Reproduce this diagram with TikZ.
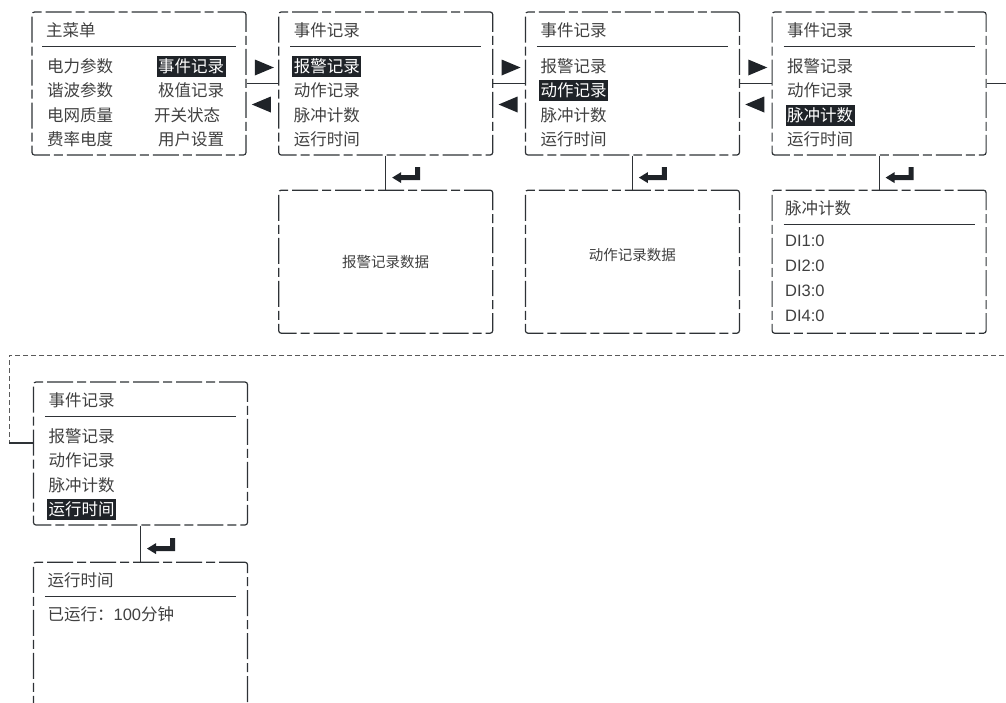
\documentclass[tikz,border=0pt]{standalone}
\usepackage{fontspec}
\setmainfont{Liberation Sans}
\newfontfamily\cjk{Noto Sans CJK SC}
\usetikzlibrary{positioning,calc}
\definecolor{linec}{HTML}{2E3236}
\definecolor{selc}{HTML}{1F2328}
\definecolor{textc}{HTML}{404040}
\definecolor{wrapc}{HTML}{5A5A5A}
\newcommand*\retkey[1]{\fill[selc] ([shift={(6.5,5)}]#1) -- ++(9,-5.5) -- ++(0,3) -- ++(14,0)
  -- ++(0,-8) -- ++(5,0) -- ++(0,13) -- ++(-19,0) -- ++(0,3) -- cycle;}

\begin{document}
\begin{tikzpicture}[x=1pt,y=-1pt,node distance=31.5pt,
  menu/.style={draw=linec,line width=1.2pt,dash pattern=on 26pt off 4pt on 9pt off 4pt,
    rounded corners=2.5pt,minimum width=214pt,minimum height=143pt,inner sep=0pt},
  link/.style={draw=linec,line width=1.2pt},
  wrap/.style={draw=wrapc,line width=0.8pt,dash pattern=on 5pt off 3pt},
  rule/.style={draw=linec,line width=1pt},
  item/.style={anchor=west,inner xsep=1.5pt,inner ysep=2pt,text height=14.5pt,text depth=2.5pt,
    text=textc,font=\cjk\fontsize{16.5}{18}\selectfont},
  sel/.style={item,fill=selc,text=white},
  latin/.style={item,font=\fontsize{16.5}{18}\selectfont},
  note/.style={text=textc,font=\cjk\fontsize{14.5}{16}\selectfont}]
  \clip (0,0) rectangle (1006,702);

  % menu boxes
  \node[menu] (main) at (139,83.5) {};
  \node[menu,right=of main] (rec1) {};
  \node[menu,right=of rec1] (rec2) {};
  \node[menu,right=of rec2] (rec3) {};
  \node[menu,below=34pt of rec1] (alarmdata) {};
  \node[menu,below=34pt of rec2] (actiondata) {};
  \node[menu,below=34pt of rec3] (pulsedata) {};
  \node[menu] (rec4) at (140.5,453.5) {};
  \node[menu,below=36pt of rec4,minimum height=160pt] (timedata) {};

  % main menu
  \node[item] at ([shift={(13,19)}]main.north west) {主菜单};
  \draw[rule] ([shift={(11,35)}]main.north west) -- ([shift={(-11,35)}]main.north east);
  \foreach \l/\r/\dx [count=\i] in {电力参数/事件记录/125,谐波参数/极值记录/125,
      电网质量/开关状态/121,费率电度/用户设置/125}{
    \ifnum\i=1 \def\st{sel}\else\def\st{item}\fi
    \node[item] at ([shift={(14,30.7+24.3*\i)}]main.north west) {\l};
    \node[\st] at ([shift={(\dx,30.7+24.3*\i)}]main.north west) {\r};
  }

  % event record menus
  \foreach \b/\s in {rec1/1,rec2/2,rec3/3,rec4/4}{
    \node[item] at ([shift={(14,19)}]\b.north west) {事件记录};
    \draw[rule] ([shift={(12,35)}]\b.north west) -- ([shift={(-12,35)}]\b.north east);
    \foreach \t [count=\i] in {报警记录,动作记录,脉冲计数,运行时间}{
      \ifnum\i=\s \def\st{sel}\else\def\st{item}\fi
      \node[\st] at ([shift={(14,30.7+24.3*\i)}]\b.north west) {\t};
    }
  }

  % data screens
  \node[note] at (alarmdata) {报警记录数据};
  \node[note,yshift=7pt] at (actiondata) {动作记录数据};
  \node[item] at ([shift={(12,19)}]pulsedata.north west) {脉冲计数};
  \draw[rule] ([shift={(12,35)}]pulsedata.north west) -- ([shift={(-12,35)}]pulsedata.north east);
  \foreach \i in {1,...,4}
    \node[latin] at ([shift={(12,26+25*\i)}]pulsedata.north west) {DI\i:0};
  \node[item] at ([shift={(13,19)}]timedata.north west) {运行时间};
  \draw[rule] ([shift={(12,35)}]timedata.north west) -- ([shift={(-12,35)}]timedata.north east);
  \node[item] at ([shift={(13,53)}]timedata.north west) {已运行：{\rmfamily 100}分钟};

  % links
  \foreach \a/\b in {main/rec1,rec1/rec2,rec2/rec3}{
    \draw[link] (\a) -- (\b);
    \coordinate (m) at ($(\a.east)!0.5!(\b.west)$);
    \fill[selc] ([shift={(-7.5,-24)}]m) -- ++(19,8) -- ++(-19,8) -- cycle;
    \fill[selc] ([shift={(8.5,13)}]m) -- ++(-19,8) -- ++(19,8) -- cycle;
  }
  \foreach \a/\b in {rec1/alarmdata,rec2/actiondata,rec3/pulsedata,rec4/timedata}{
    \draw[link] (\a) -- (\b);
    \coordinate (m) at ($(\a.south)!0.5!(\b.north)$);
    \retkey{m}
  }
  \coordinate (wrapR) at (1012,83.5);
  \coordinate (wrapA) at (1012,355);
  \coordinate (wrapB) at (9,355);
  \coordinate (wrapL) at (9,443);
  \draw[link] (rec3) -- (wrapR);
  \draw[wrap] (wrapA) -- (wrapB) -- (wrapL);
  \draw[link] (wrapL) -- (wrapL -| rec4.west);
\end{tikzpicture}
\end{document}
